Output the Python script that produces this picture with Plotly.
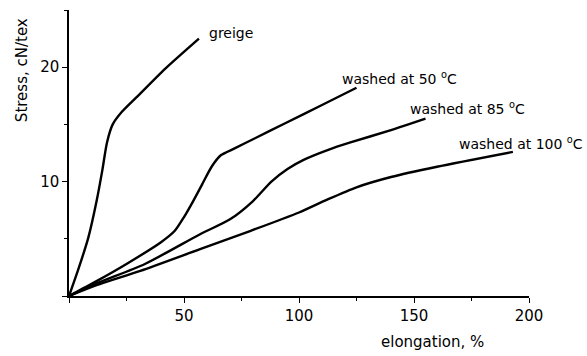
import plotly.graph_objects as go

greige_x = [0, 4.0, 8.4, 12.0, 14.5, 16.5, 19.0, 23.0, 30.0, 42.0, 56.5]
greige_y = [0, 2.3, 5.1, 8.3, 11.0, 13.4, 15.0, 16.1, 17.5, 19.9, 22.5]

w50_x = [0, 12, 25, 40, 46, 50, 54, 58, 62, 66, 72, 80, 94, 110, 125]
w50_y = [0, 1.3, 2.8, 4.7, 5.7, 6.9, 8.3, 9.8, 11.3, 12.3, 12.9, 13.7, 15.1, 16.7, 18.2]

w85_x = [0, 12, 33, 57, 70, 80, 88, 95, 102, 113, 122, 140, 155]
w85_y = [0, 1.1, 2.8, 5.4, 6.7, 8.3, 10.0, 11.1, 11.9, 12.8, 13.4, 14.5, 15.5]

w100_x = [0, 12, 31, 57, 79, 100, 112, 125, 140, 160, 193]
w100_y = [0, 0.95, 2.2, 4.1, 5.7, 7.3, 8.4, 9.5, 10.4, 11.3, 12.6]

labels = ["greige", "washed at 50 <sup>o</sup>C", "washed at 85 <sup>o</sup>C", "washed at 100 <sup>o</sup>C"]
label_x = [60, 117.8, 147.4, 168.7]
label_y = [23.0, 19.1, 16.4, 13.4]

x_ticks = [0, 50, 100, 150, 200]
x_ticktext = ["", "50", "100", "150", "200"]
y_ticks = [0, 10, 20]
y_ticktext = ["", "10", "20"]

FONT = "DejaVu Sans"

fig = go.Figure()
for xs, ys in [(greige_x, greige_y), (w50_x, w50_y), (w85_x, w85_y), (w100_x, w100_y)]:
    fig.add_trace(go.Scatter(x=xs, y=ys, mode="lines",
                             line=dict(color="black", width=2.4, shape="spline", smoothing=0.7),
                             showlegend=False, hoverinfo="skip"))

for t, lx, ly in zip(labels, label_x, label_y):
    fig.add_annotation(x=lx, y=ly, xref="x", yref="y", text=t, showarrow=False,
                       xanchor="left", yanchor="middle",
                       font=dict(family=FONT, size=14, color="black"))

fig.add_annotation(x=-0.102, y=0.79, xref="paper", yref="paper", text="Stress, cN/tex",
                   textangle=-90, showarrow=False, xanchor="center", yanchor="middle",
                   font=dict(family=FONT, size=15, color="black"))
fig.add_annotation(x=158, y=-0.2, xref="x", yref="paper", text="elongation, %",
                   showarrow=False, xanchor="center", yanchor="bottom",
                   font=dict(family=FONT, size=15, color="black"))

fig.update_xaxes(range=[0, 200], tickvals=x_ticks, ticktext=x_ticktext,
                 showline=True, linecolor="black", linewidth=1.8,
                 ticks="outside", ticklen=5, tickwidth=1.2, tickcolor="black",
                 minor=dict(dtick=25, ticks="outside", ticklen=3, tickcolor="black", showgrid=False),
                 showgrid=False, zeroline=False,
                 tickfont=dict(family=FONT, size=15, color="black"))
fig.update_yaxes(range=[0, 25], tickvals=y_ticks, ticktext=y_ticktext,
                 showline=True, linecolor="black", linewidth=1.5,
                 ticks="outside", ticklen=5, tickwidth=1.2, tickcolor="black",
                 minor=dict(dtick=5, ticks="outside", ticklen=3, tickcolor="black", showgrid=False),
                 showgrid=False, zeroline=False,
                 tickfont=dict(family=FONT, size=15, color="black"))

fig.update_layout(width=587, height=356, margin=dict(l=69, r=58, t=10, b=60),
                  plot_bgcolor="white", paper_bgcolor="white")

fig.write_html("out.html")
